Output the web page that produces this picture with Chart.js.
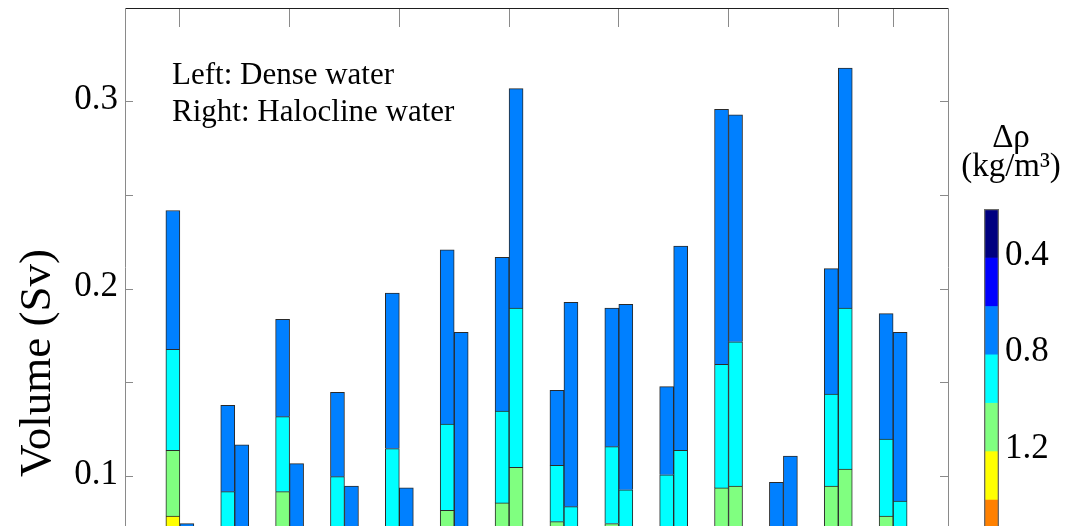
<!DOCTYPE html>
<html>
<head>
<meta charset="utf-8">
<script src="https://cdn.jsdelivr.net/npm/chart.js@4/dist/chart.umd.min.js"></script>
<style>
  html, body { margin: 0; padding: 0; background: #fff; overflow: hidden; }
  #wrap { position: relative; width: 1069px; height: 526px; overflow: hidden;
          font-family: "Liberation Serif", "Times New Roman", serif; color: #000; }
  canvas { position: absolute; top: 0; }
  .note { position: absolute; left: 172px; top: 55px; font-size: 31px; line-height: 37px; white-space: nowrap; }
  .ylab { position: absolute; left: -115px; top: 337.5px; width: 300px; height: 50px; line-height: 50px;
          font-size: 45px; text-align: center; white-space: nowrap; transform: rotate(-90deg); }
  .cbt { position: absolute; left: 961px; top: 122px; width: 100px; text-align: center;
         font-size: 33px; line-height: 29px; white-space: nowrap; }
</style>
</head>
<body>
<div id="wrap">
  <canvas id="main" width="1069" height="526" style="left:0;width:1069px;height:526px"></canvas>
  <canvas id="cbar" width="109" height="526" style="left:960px;width:109px;height:526px"></canvas>
  <div class="note">Left: Dense water<br>Right: Halocline water</div>
  <div class="ylab">Volume (Sv)</div>
  <div class="cbt">Δρ<br>(kg/m³)</div>
</div>
<script>
// Pair index along the horizontal axis (dense water bar on the left, halocline water on the right)
const categories = [1, 2, 3, 4, 5, 6, 7, 8, 9, 10, 11, 12, 13, 14];

// Volume (Sv) per density-difference class, dense water
const denseYellow = [0.079, 0, 0, 0, 0, 0, 0, 0, 0, 0, 0, 0, 0, 0];                              // 1.2–1.4
const denseGreen  = [0.035, 0, 0.092, 0, 0, 0.082, 0.086, 0.076, 0.075, 0, 0.094, 0, 0.095, 0.079]; // 1.0–1.2
const denseCyan   = [0.054, 0.092, 0.040, 0.100, 0.115, 0.046, 0.049, 0.030, 0.041, 0.101, 0.066, 0, 0.049, 0.041]; // 0.8–1.0
const denseAzure  = [0.074, 0.046, 0.052, 0.045, 0.083, 0.093, 0.082, 0.040, 0.074, 0.047, 0.136, 0.097, 0.067, 0.067]; // 0.6–0.8

// Volume (Sv) per density-difference class, halocline water
const haloGreen = [0, 0, 0, 0, 0, 0, 0.105, 0, 0, 0, 0.095, 0, 0.104, 0];
const haloCyan  = [0, 0, 0, 0, 0, 0, 0.085, 0.084, 0.093, 0.114, 0.077, 0, 0.086, 0.087];
const haloAzure = [0.075, 0.117, 0.107, 0.095, 0.094, 0.177, 0.117, 0.109, 0.099, 0.109, 0.121, 0.111, 0.128, 0.090];

// Axis ticks
const xTicks = [1, 3, 5, 7, 9, 11, 13, 14];
const yTicks = [0.1, 0.15, 0.2, 0.25, 0.3];
const yTickLabels = [0.1, 0.2, 0.3];
const yMin = 0.0737, yMax = 0.35;

// Colour scale for Δρ (kg/m³)
const cbBounds = [0.2, 0.4, 0.6, 0.8, 1.0, 1.2, 1.4, 1.6];
const cbColors = ['#000080', '#0000ff', '#0080ff', '#00ffff', '#80ff80', '#ffff00', '#ff8000'];
const cbTicks = [0.4, 0.8, 1.2];
const cbMin = 0.2, cbMax = 1.51;

const FONT = '"Liberation Serif", "Times New Roman", serif';
const classColor = { yellow: '#ffff00', green: '#80ff80', cyan: '#00ffff', azure: '#0080ff' };

const toPoints = arr => arr.map((v, i) => ({ x: categories[i], y: v }));
const barSet = (label, stack, arr, color) => ({
  label, stack, data: toPoints(arr),
  backgroundColor: color,
  borderColor: '#2a2a2a',
  borderWidth: 1,
  borderSkipped: 'bottom',
  barThickness: 14
});

new Chart(document.getElementById('main'), {
  type: 'bar',
  data: {
    datasets: [
      barSet('Dense 1.2–1.4', 'dense', denseYellow, classColor.yellow),
      barSet('Dense 1.0–1.2', 'dense', denseGreen, classColor.green),
      barSet('Dense 0.8–1.0', 'dense', denseCyan, classColor.cyan),
      barSet('Dense 0.6–0.8', 'dense', denseAzure, classColor.azure),
      barSet('Halocline 1.0–1.2', 'halocline', haloGreen, classColor.green),
      barSet('Halocline 0.8–1.0', 'halocline', haloCyan, classColor.cyan),
      barSet('Halocline 0.6–0.8', 'halocline', haloAzure, classColor.azure)
    ]
  },
  options: {
    responsive: false,
    animation: false,
    devicePixelRatio: 1,
    layout: { padding: 0, autoPadding: false },
    plugins: { legend: { display: false }, tooltip: { enabled: false } },
    scales: {
      x: {
        type: 'linear', position: 'top', min: 0, max: 15, offset: false,
        grid: { drawOnChartArea: false, offset: false, tickLength: -19, color: '#8a8a8a', lineWidth: 1 },
        border: { color: '#1e1e1e', width: 1 },
        ticks: { display: false },
        afterBuildTicks: s => { s.ticks = xTicks.map(v => ({ value: v })); },
        afterFit: s => { s.height = 8; s.paddingLeft = 0; s.paddingRight = 0; }
      },
      y: {
        position: 'left', min: yMin, max: yMax, stacked: true,
        grid: { drawOnChartArea: false, tickLength: -8, color: '#8a8a8a', lineWidth: 1 },
        border: { color: '#8a8a8a', width: 1 },
        ticks: {
          autoSkip: false, color: '#000', padding: 15, labelOffset: -2,
          font: { family: FONT, size: 35 },
          callback: v => yTickLabels.some(l => Math.abs(l - v) < 1e-9) ? v.toFixed(1) : ''
        },
        afterBuildTicks: s => { s.ticks = yTicks.map(v => ({ value: v })); },
        afterFit: s => { s.width = 125; s.paddingTop = 0; s.paddingBottom = 0; }
      },
      y2: {
        position: 'right', min: yMin, max: yMax,
        grid: { drawOnChartArea: false, tickLength: -8, color: '#8a8a8a', lineWidth: 1 },
        border: { color: '#8a8a8a', width: 1 },
        ticks: { display: false },
        afterBuildTicks: s => { s.ticks = yTicks.map(v => ({ value: v })); },
        afterFit: s => { s.width = 121; s.paddingTop = 0; s.paddingBottom = 0; }
      }
    }
  }
});

// Colour bar: one floating segment per Δρ class, plus a thin frame on top
const cbSets = cbColors.map((c, i) => ({
  label: cbBounds[i] + '–' + cbBounds[i + 1],
  data: [[cbBounds[i], cbBounds[i + 1]]],
  backgroundColor: c,
  borderWidth: 0,
  order: 1
}));
cbSets.push({
  label: 'frame',
  data: [[cbBounds[0], cbBounds[cbBounds.length - 1]]],
  backgroundColor: 'rgba(0,0,0,0)',
  borderColor: '#6a6a6a',
  borderWidth: 1,
  borderSkipped: false,
  order: 0
});

new Chart(document.getElementById('cbar'), {
  type: 'bar',
  data: { labels: ['Δρ'], datasets: cbSets },
  options: {
    responsive: false,
    animation: false,
    devicePixelRatio: 1,
    layout: { padding: { left: 24, top: 209, right: 0, bottom: 0 }, autoPadding: false },
    plugins: { legend: { display: false }, tooltip: { enabled: false } },
    datasets: { bar: { grouped: false, barPercentage: 1, categoryPercentage: 1 } },
    scales: {
      x: { display: false },
      y: {
        position: 'right', reverse: true, min: cbMin, max: cbMax,
        grid: { display: false, drawTicks: false },
        border: { display: false },
        ticks: {
          autoSkip: false, color: '#000', padding: 6, labelOffset: -2,
          font: { family: FONT, size: 35 },
          callback: v => v.toFixed(1)
        },
        afterBuildTicks: s => { s.ticks = cbTicks.map(v => ({ value: v })); },
        afterFit: s => { s.width = 70; s.paddingTop = 0; s.paddingBottom = 0; }
      }
    }
  }
});
</script>
</body>
</html>
